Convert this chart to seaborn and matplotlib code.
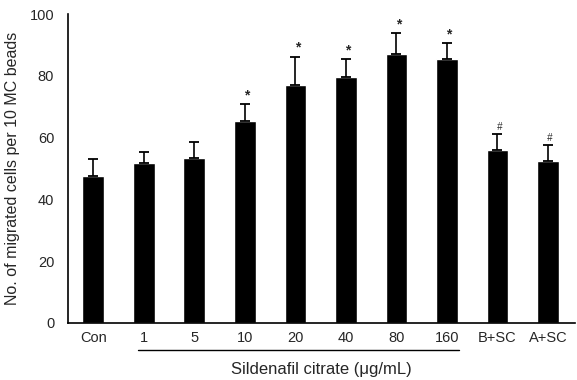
import matplotlib
matplotlib.use("Agg")
import matplotlib.pyplot as plt
import seaborn as sns
import numpy as np
import pandas as pd
from matplotlib.transforms import blended_transform_factory

categories = ["Con", "1", "5", "10", "20", "40", "80", "160", "B+SC", "A+SC"]
means = [47.6, 51.7, 53.3, 65.5, 77.0, 79.7, 87.0, 85.4, 55.9, 52.5]
errors = [5.5, 3.7, 5.2, 5.4, 9.2, 5.8, 6.9, 5.1, 5.4, 5.2]
marks = ["", "", "", "*", "*", "*", "*", "*", "#", "#"]

sns.set_style("white")
plt.rcParams['font.family'] = ['Liberation Sans', 'DejaVu Sans']

fig = plt.figure(figsize=(5.77, 3.80), dpi=100)
ax = fig.add_axes([0.118, 0.15, 0.878, 0.813])

df = pd.DataFrame({"cat": categories, "val": means})
sns.barplot(data=df, x="cat", y="val", order=categories, color="black",
            width=0.43, errorbar=None, ax=ax, saturation=1)
xs = np.arange(len(categories))
ax.errorbar(xs, means, yerr=[np.zeros(len(errors)), errors], fmt="none",
            ecolor="black", elinewidth=1.2, capsize=3.5, capthick=1.3)
for x, m, e, s in zip(xs, means, errors, marks):
    if s:
        ax.text(x + 0.04, m + e + 0.6, s, ha="center", va="bottom",
                fontsize=10 if s == "*" else 7, fontweight="bold" if s == "*" else "normal",
                style="italic" if s == "#" else "normal")

ax.set_xlim(-0.5, 9.53)
ax.set_ylim(0, 100)
ax.set_yticks([0, 20, 40, 60, 80, 100])
ax.tick_params(axis="y", labelsize=10.5, length=2, direction="in", pad=10)
ax.tick_params(axis="x", labelsize=10.5, length=0, pad=6)
for sp in ["top", "right"]:
    ax.spines[sp].set_visible(False)
ax.spines["left"].set_linewidth(1.2)
ax.spines["bottom"].set_linewidth(1.2)
ax.spines["left"].set_color("black")
ax.spines["bottom"].set_color("black")

ax.set_ylabel("No. of migrated cells per 10 MC beads", fontsize=11.5, labelpad=7)
ax.set_xlabel("Sildenafil citrate (\u03bcg/mL)", fontsize=12, labelpad=12)

trans = blended_transform_factory(ax.transData, ax.transAxes)
ax.plot([0.89, 7.23], [-0.087, -0.087], transform=trans, color="black",
        lw=1.0, clip_on=False)

fig.savefig("out.png", dpi=100)
